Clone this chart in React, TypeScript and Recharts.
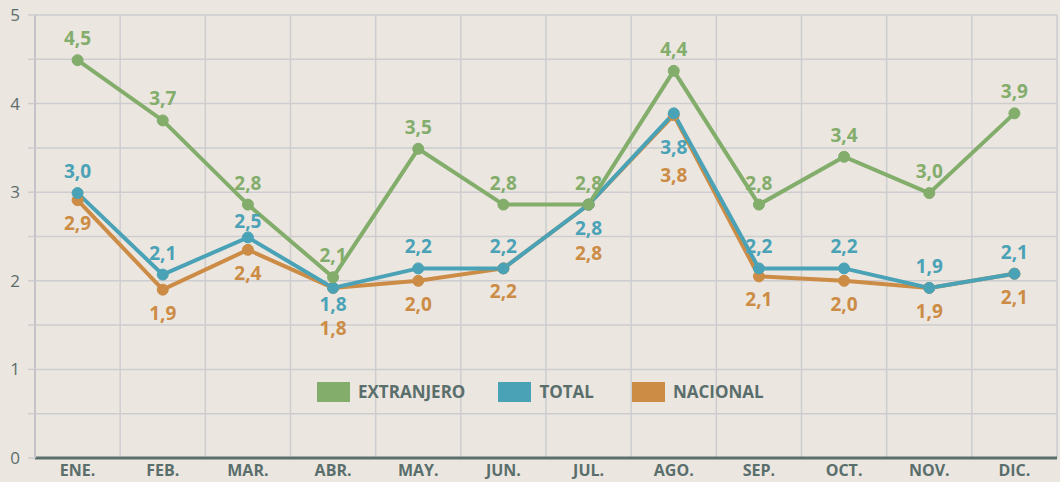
import React from 'react';
import { LineChart, Line, XAxis, YAxis, CartesianGrid, Legend, LabelList } from 'recharts';

const months = ['ENE.', 'FEB.', 'MAR.', 'ABR.', 'MAY.', 'JUN.', 'JUL.', 'AGO.', 'SEP.', 'OCT.', 'NOV.', 'DIC.'];
const extranjero = [4.49, 3.81, 2.86, 2.04, 3.49, 2.86, 2.86, 4.37, 2.86, 3.4, 2.99, 3.89];
const total = [2.99, 2.07, 2.49, 1.92, 2.14, 2.14, 2.86, 3.89, 2.14, 2.14, 1.92, 2.08];
const nacional = [2.91, 1.9, 2.35, 1.92, 2.0, 2.14, 2.86, 3.87, 2.05, 2.0, 1.92, 2.08];
const extranjeroLabels = ['4,5', '3,7', '2,8', '2,1', '3,5', '2,8', '2,8', '4,4', '2,8', '3,4', '3,0', '3,9'];
const totalLabels = ['3,0', '2,1', '2,5', '1,8', '2,2', '2,2', '2,8', '3,8', '2,2', '2,2', '1,9', '2,1'];
const nacionalLabels = ['2,9', '1,9', '2,4', '1,8', '2,0', '2,2', '2,8', '3,8', '2,1', '2,0', '1,9', '2,1'];
const yTicks = [0, 0.5, 1, 1.5, 2, 2.5, 3, 3.5, 4, 4.5, 5];
const xBounds = [0, 1, 2, 3, 4, 5, 6, 7, 8, 9, 10, 11, 12];
const xCenters = months.map((_, i) => i + 0.5);

// label placement (style): up = above point, dn = below, st = stacked under another label
const extPlace = months.map(() => 'up');
const totPlace = ['up', 'up', 'up2', 'dn0', 'up', 'up', 'dn', 'dn2', 'up', 'up', 'up', 'up'];
const nacPlace = ['dn', 'dn', 'dn', 'st', 'dn', 'dn', 'st3', 'st2', 'dn', 'dn', 'dn', 'dn'];
const offsets: Record<string, number> = { up: -15, up2: -9, dn0: 23, dn: 30, dn2: 41, st: 47, st3: 55, st2: 67 };

const GREEN = '#83ad6b';
const TEAL = '#4aa2b6';
const ORANGE = '#cc8c45';
const TEXT = '#5a6e6c';
const GRID = '#cdcdd0';
const FONT = "'Open Sans', sans-serif";

const data = months.map((m, i) => ({
  x: xCenters[i],
  month: m,
  extranjero: extranjero[i],
  total: total[i],
  nacional: nacional[i],
  extLabel: extranjeroLabels[i],
  totLabel: totalLabels[i],
  nacLabel: nacionalLabels[i],
}));

const makeLabel = (color: string, place: string[]) => (props: any) => {
  const { x, y, value, index } = props;
  const p = place[index ?? 0] || 'up';
  return (
    <text
      x={x}
      y={y + offsets[p]}
      textAnchor="middle"
      fill={color}
      fontFamily={FONT}
      fontWeight={700}
      fontSize={19}
    >
      {value}
    </text>
  );
};

const legendItems = [
  { name: 'EXTRANJERO', color: GREEN },
  { name: 'TOTAL', color: TEAL },
  { name: 'NACIONAL', color: ORANGE },
];

const LegendContent = () => (
  <div style={{ display: 'flex', alignItems: 'center', fontFamily: FONT }}>
    {legendItems.map((it, i) => (
      <div key={it.name} style={{ display: 'flex', alignItems: 'center', marginRight: i === 0 ? 33 : i === 1 ? 38 : 0 }}>
        <div style={{ width: 33, height: 20, background: it.color, marginRight: 8 }} />
        <span style={{ color: TEXT, fontWeight: 700, fontSize: 17 }}>{it.name}</span>
      </div>
    ))}
  </div>
);

export default function App() {
  return (
    <div style={{ position: 'absolute', left: 0, top: 0, width: 1060, height: 482, background: '#ebe6e0' }}>
      <LineChart width={1060} height={482} data={data} margin={{ top: 15, right: 3, bottom: 0, left: 0 }}>
        <CartesianGrid
          stroke={GRID}
          strokeWidth={1.5}
          horizontalValues={yTicks}
          verticalValues={xBounds}
        />
        <XAxis
          dataKey="x"
          type="number"
          domain={[0, 12]}
          ticks={xCenters}
          tickFormatter={(v: number) => months[Math.floor(v)]}
          tickLine={false}
          tickSize={0}
          tickMargin={7}
          height={24}
          axisLine={{ stroke: '#5a706c', strokeWidth: 3 }}
          tick={{ fill: TEXT, fontFamily: FONT, fontWeight: 700, fontSize: 16 }}
          interval={0}
        />
        <YAxis
          type="number"
          domain={[0, 5]}
          ticks={yTicks}
          interval={0}
          width={35}
          tickSize={7}
          tickMargin={8}
          tickLine={{ stroke: GRID, strokeWidth: 1.5 }}
          axisLine={{ stroke: '#c4c4c8', strokeWidth: 2 }}
          tickFormatter={(v: number) => (Number.isInteger(v) ? String(v) : '')}
          tick={{ fill: TEXT, fontFamily: FONT, fontSize: 17 }}
        />
        <Legend
          layout="horizontal"
          verticalAlign="middle"
          align="center"
          content={<LegendContent />}
          wrapperStyle={{ left: 317, top: 380, width: 520 }}
        />
        <Line
          dataKey="nacional"
          stroke={ORANGE}
          strokeWidth={4}
          dot={{ r: 5.5, fill: ORANGE, stroke: ORANGE, strokeWidth: 1 }}
          isAnimationActive={false}
        >
          <LabelList dataKey="nacLabel" content={makeLabel(ORANGE, nacPlace)} />
        </Line>
        <Line
          dataKey="total"
          stroke={TEAL}
          strokeWidth={4}
          dot={{ r: 5.5, fill: TEAL, stroke: TEAL, strokeWidth: 1 }}
          isAnimationActive={false}
        >
          <LabelList dataKey="totLabel" content={makeLabel(TEAL, totPlace)} />
        </Line>
        <Line
          dataKey="extranjero"
          stroke={GREEN}
          strokeWidth={4}
          dot={{ r: 5.5, fill: GREEN, stroke: GREEN, strokeWidth: 1 }}
          isAnimationActive={false}
        >
          <LabelList dataKey="extLabel" content={makeLabel(GREEN, extPlace)} />
        </Line>
      </LineChart>
    </div>
  );
}
